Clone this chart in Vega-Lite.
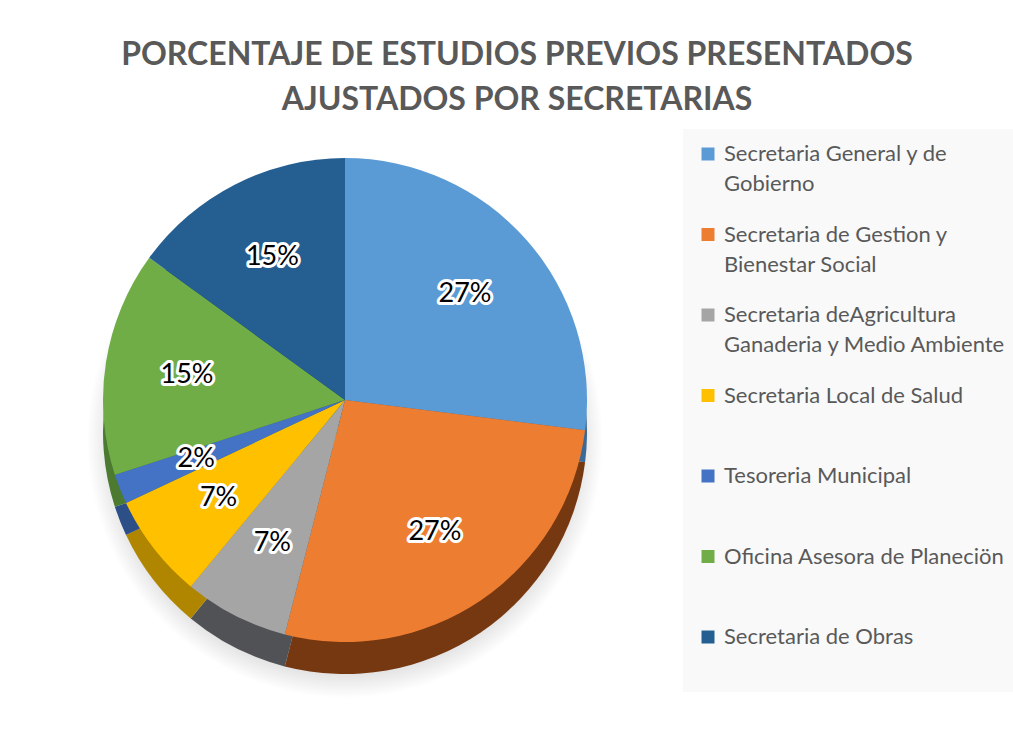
{
  "$schema": "https://vega.github.io/schema/vega-lite/v6.json",
  "width": 674,
  "height": 500,
  "autosize": {"type": "none"},
  "padding": {"left": 8, "top": 150, "right": 331, "bottom": 86},
  "background": "#ffffff",
  "title": {
    "text": ["PORCENTAJE DE ESTUDIOS PREVIOS PRESENTADOS", "AJUSTADOS POR SECRETARIAS"],
    "font": "Lato",
    "fontSize": 32,
    "fontWeight": "bold",
    "color": "#595959",
    "anchor": "middle",
    "dx": 172,
    "lineHeight": 45,
    "offset": 12
  },
  "data": {
    "values": [
      {"secretaria": "Secretaria General y de Gobierno", "porcentaje": 0.27, "orden": 1},
      {"secretaria": "Secretaria de Gestion y Bienestar Social", "porcentaje": 0.27, "orden": 2},
      {"secretaria": "Secretaria deAgricultura Ganaderia y Medio Ambiente", "porcentaje": 0.07, "orden": 3},
      {"secretaria": "Secretaria Local de Salud", "porcentaje": 0.07, "orden": 4},
      {"secretaria": "Tesoreria Municipal", "porcentaje": 0.02, "orden": 5},
      {"secretaria": "Oficina Asesora de Planeciön", "porcentaje": 0.15, "orden": 6},
      {"secretaria": "Secretaria de Obras", "porcentaje": 0.15, "orden": 7}
    ]
  },
  "resolve": {"scale": {"color": "independent"}},
  "layer": [
    {
      "mark": {
        "type": "arc",
        "outerRadius": 258,
        "yOffset": 40,
        "fill": {
          "gradient": "radial",
          "x1": 0.5, "y1": 0.5, "r1": 0,
          "x2": 0.5, "y2": 0.5, "r2": 0.5,
          "stops": [
            {"offset": 0, "color": "#c4c4c4"},
            {"offset": 0.85, "color": "#d2d2d2"},
            {"offset": 1, "color": "#ffffff"}
          ]
        }
      },
      "encoding": {
        "theta": {"aggregate": "sum", "field": "porcentaje", "type": "quantitative"}
      }
    },
    {
      "mark": {"type": "arc", "outerRadius": 242, "yOffset": 32},
      "encoding": {
        "theta": {"field": "porcentaje", "type": "quantitative", "stack": true},
        "order": {"field": "orden", "type": "quantitative"},
        "color": {
          "field": "secretaria",
          "type": "nominal",
          "sort": null,
          "scale": {"range": ["#3b6a98", "#763810", "#505256", "#b08600", "#2c4f88", "#4b7a30", "#183f62"]},
          "legend": null
        }
      }
    },
    {
      "mark": {"type": "arc", "outerRadius": 242},
      "encoding": {
        "theta": {"field": "porcentaje", "type": "quantitative", "stack": true},
        "order": {"field": "orden", "type": "quantitative"},
        "color": {
          "field": "secretaria",
          "type": "nominal",
          "sort": null,
          "scale": {"range": ["#5B9BD5", "#ED7D31", "#A5A5A5", "#FFC000", "#4472C4", "#70AD47", "#255E91"]},
          "legend": {
            "title": null,
            "orient": "none",
            "legendX": 675,
            "legendY": -21,
            "fillColor": "#f9f9f9",
            "padding": 14,
            "symbolType": "square",
            "symbolSize": 169,
            "symbolStrokeWidth": 0,
            "labelFont": "Lato",
            "labelFontSize": 22,
            "labelColor": "#595959",
            "labelOffset": 5,
            "labelLimit": 400,
            "rowPadding": 28.5,
            "labelExpr": "datum.label == 'Secretaria General y de Gobierno' ? ['Secretaria General y de', 'Gobierno'] : datum.label == 'Secretaria de Gestion y Bienestar Social' ? ['Secretaria de Gestion y', 'Bienestar Social'] : datum.label == 'Secretaria deAgricultura Ganaderia y Medio Ambiente' ? ['Secretaria deAgricultura', 'Ganaderia y Medio Ambiente'] : [datum.label, ' ']"
          }
        }
      }
    },
    {
      "mark": {"type": "text", "radius": 160, "font": "Lato", "fontSize": 27, "stroke": "#ffffff", "strokeWidth": 6, "strokeJoin": "round", "fill": "#ffffff"},
      "encoding": {
        "theta": {"field": "porcentaje", "type": "quantitative", "stack": true},
        "order": {"field": "orden", "type": "quantitative"},
        "text": {"field": "porcentaje", "type": "quantitative", "format": ".0%"}
      }
    },
    {
      "mark": {"type": "text", "radius": 160, "font": "Lato", "fontSize": 27, "fill": "#000000"},
      "encoding": {
        "theta": {"field": "porcentaje", "type": "quantitative", "stack": true},
        "order": {"field": "orden", "type": "quantitative"},
        "text": {"field": "porcentaje", "type": "quantitative", "format": ".0%"}
      }
    }
  ],
  "config": {
    "view": {"stroke": null},
    "style": {"guide-label": {"lineHeight": 30}}
  }
}
